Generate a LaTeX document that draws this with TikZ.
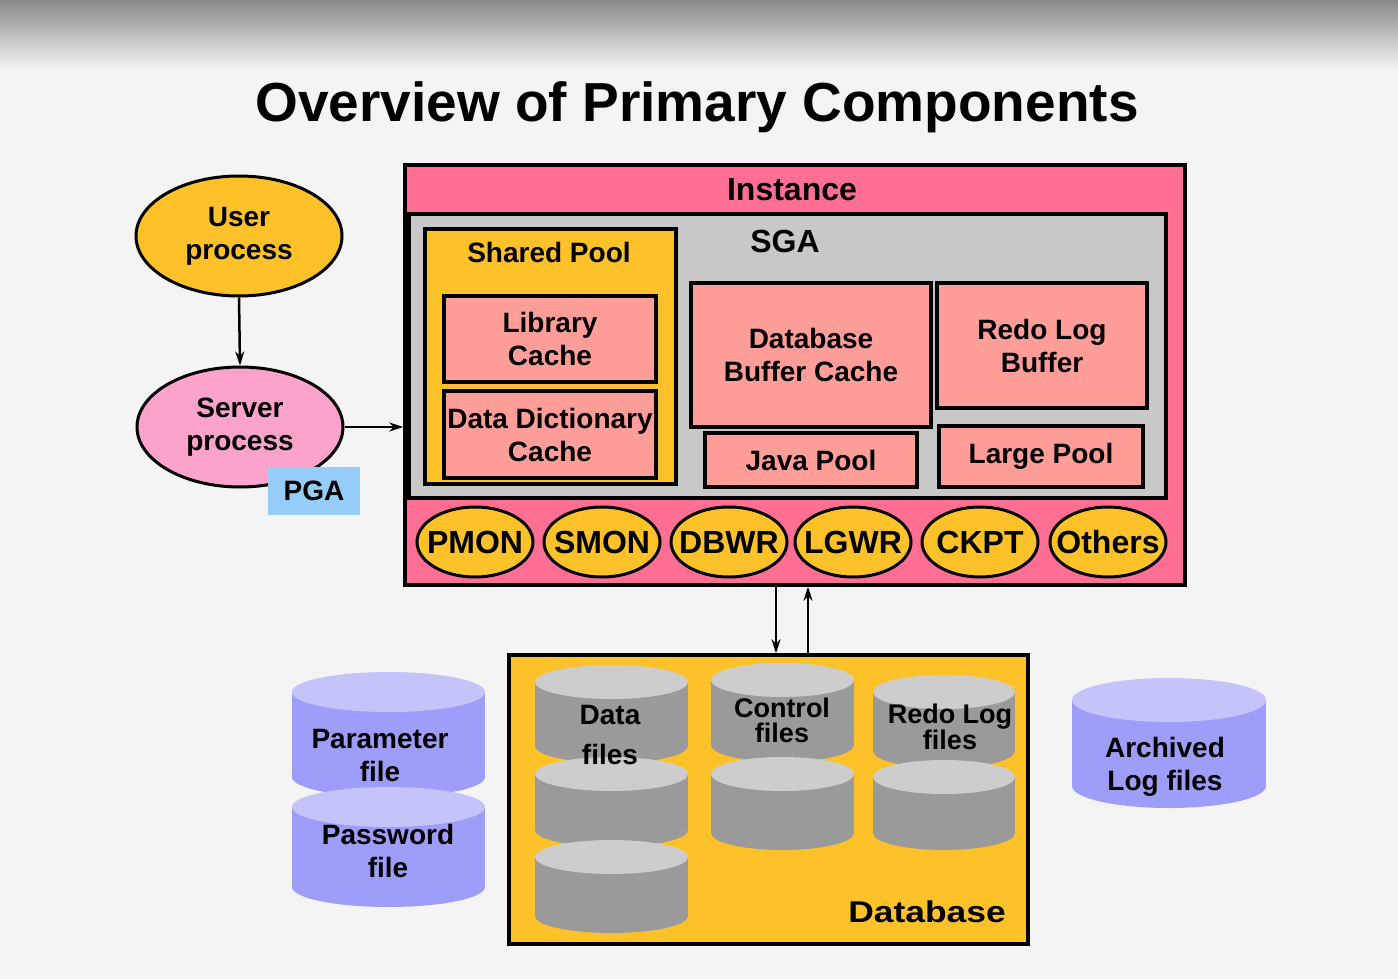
\documentclass[tikz,border=0pt]{standalone}
\usepackage{fontspec}
\setmainfont{Liberation Sans}
\newfontfamily\widesans[FakeStretch=1.18]{Liberation Sans}
\usetikzlibrary{shapes.geometric,arrows.meta}

\definecolor{bgcol}{HTML}{F4F4F4}
\definecolor{topgray}{HTML}{8A8A8A}
\definecolor{oragold}{HTML}{FDC12A}
\definecolor{instpink}{HTML}{FF6F93}
\definecolor{srvpink}{HTML}{FBA3CB}
\definecolor{salmon}{HTML}{FF9E98}
\definecolor{sgagray}{HTML}{C8C8C8}
\definecolor{pgablue}{HTML}{96CCF8}
\definecolor{diskbody}{HTML}{9A9A9A}
\definecolor{disktop}{HTML}{CDCDCD}
\definecolor{filebody}{HTML}{9E9EFA}
\definecolor{filetop}{HTML}{C4C4FA}

% one slice of a drum: centre x, half width, top y, bottom y, y radius, body, top
\newcommand\drum[7]{%
  \fill[#6] (#1-#2,#3) rectangle (#1+#2,#4);
  \fill[#6] (#1,#4) ellipse [x radius=#2, y radius=#5];
  \fill[#7] (#1,#3) ellipse [x radius=#2, y radius=#5];}

\tikzset{
  txt/.style={font=\bfseries\fontsize{28}{33}\selectfont, align=center, inner sep=0pt},
  frame/.style={rectangle, draw=black, line width=3.5pt, inner sep=0pt},
  oval/.style={ellipse, draw=black, line width=3pt, inner sep=0pt},
  bgproc/.style={oval, fill=oragold, minimum width=116, minimum height=70},
  bgname/.style={font=\bfseries\fontsize{32}{36}\selectfont, inner sep=0pt},
  flow/.style={-{Stealth[length=14pt,width=9pt]}, line width=2.5pt}
}

\begin{document}
\begin{tikzpicture}[x=1pt, y=-1pt]
  \useasboundingbox (0,0) rectangle (1398,979);
  \fill[bgcol] (0,0) rectangle (1398,979);
  \shade[top color=topgray, bottom color=bgcol] (0,0) rectangle (1398,70);

  \node[txt, font=\bfseries\fontsize{55}{60}\selectfont, anchor=base] (title) at (697,122) {Overview of Primary Components};

  % client side
  \node[oval, txt, fill=oragold, minimum width=206, minimum height=120] (user) at (239,236) {User\\process};
  \node[oval, txt, fill=srvpink, minimum width=206, minimum height=120] (server) at (240,427) {Server\\process};
  \node[txt, fill=pgablue, minimum width=92, minimum height=48] (pga) at (314,491) {PGA};

  % instance and SGA
  \node[frame, fill=instpink, minimum width=780, minimum height=420] (inst) at (795,375) {};
  \node[txt, font=\bfseries\fontsize{32}{36}\selectfont] (insttxt) at (792,190) {Instance};
  \node[frame, fill=sgagray, minimum width=757, minimum height=284] (sga) at (787.5,356) {};
  \node[txt, font=\bfseries\fontsize{32}{36}\selectfont] (sgatxt) at (785,241) {SGA};

  \node[frame, fill=oragold, minimum width=251, minimum height=255] (shpool) at (550.5,356.5) {};
  \node[txt] (shtxt) at (549,252) {Shared Pool};
  \node[frame, txt, fill=salmon, minimum width=212, minimum height=86] (libc) at (550,339) {Library\\Cache};
  \node[frame, txt, fill=salmon, minimum width=212, minimum height=87] (ddc) at (550,434.5) {Data Dictionary\\Cache};
  \node[frame, txt, fill=salmon, minimum width=240, minimum height=144] (dbbc) at (811,355) {Database\\Buffer Cache};
  \node[frame, txt, fill=salmon, minimum width=210, minimum height=125] (rlb) at (1042,345.5) {Redo Log\\Buffer};
  \node[frame, txt, fill=salmon, minimum width=212, minimum height=54] (java) at (811,460) {Java Pool};
  \node[frame, txt, fill=salmon, minimum width=204, minimum height=61] (large) at (1041,456.5) {Large Pool};

  % background processes
  \foreach \px/\pname in {475/PMON, 602/SMON, 729/DBWR, 853/LGWR, 980/CKPT, 1108/Others}
    \node[bgproc, label={[bgname]center:\pname}] (\pname) at (\px,542) {};

  % database
  \node[frame, fill=oragold, minimum width=519, minimum height=289] (db) at (768.5,799.5) {};
  \node[txt, font=\widesans\bfseries\fontsize{30}{34}\selectfont, anchor=base east] (dbtxt) at (1006,922) {Database};

  \drum{611.5}{76.5}{682}{746}{17}{diskbody}{disktop}
  \drum{611.5}{76.5}{774}{830}{17}{diskbody}{disktop}
  \drum{611.5}{76.5}{857}{916}{17}{diskbody}{disktop}
  \node[txt] (datatxt) at (610,735) {Data\\[7pt]files};

  \drum{782.5}{71.5}{680}{745}{17}{diskbody}{disktop}
  \drum{782.5}{71.5}{774}{833}{17}{diskbody}{disktop}
  \node[txt, font=\bfseries\fontsize{27}{25}\selectfont] (ctltxt) at (782,720) {Control\\files};

  \drum{944}{71}{692}{751}{17}{diskbody}{disktop}
  \drum{944}{71}{777}{833}{17}{diskbody}{disktop}
  \node[txt, font=\bfseries\fontsize{27}{25}\selectfont] (redotxt) at (950,727) {Redo Log\\files};

  % files outside the database
  \drum{388.5}{96.5}{692}{777}{20}{filebody}{filetop}
  \drum{388.5}{96.5}{807}{887}{20}{filebody}{filetop}
  \node[txt] (partxt) at (380,755) {Parameter\\file};
  \node[txt] (pwdtxt) at (388,851) {Password\\file};

  \drum{1169}{97}{700}{786}{22}{filebody}{filetop}
  \node[txt] (arctxt) at (1165,767) {Archived\\Log files};

  % connectors
  \draw[flow] (user.south) -- (server.north);
  \draw[flow] (server.east) -- (server.east -| inst.west);
  \coordinate (rd) at ([xshift=-19pt]inst.south);
  \coordinate (wr) at ([xshift=13pt]inst.south);
  \draw[flow] (rd) -- (rd |- db.north);
  \draw[flow] (wr |- db.north) -- (wr);
\end{tikzpicture}
\end{document}
